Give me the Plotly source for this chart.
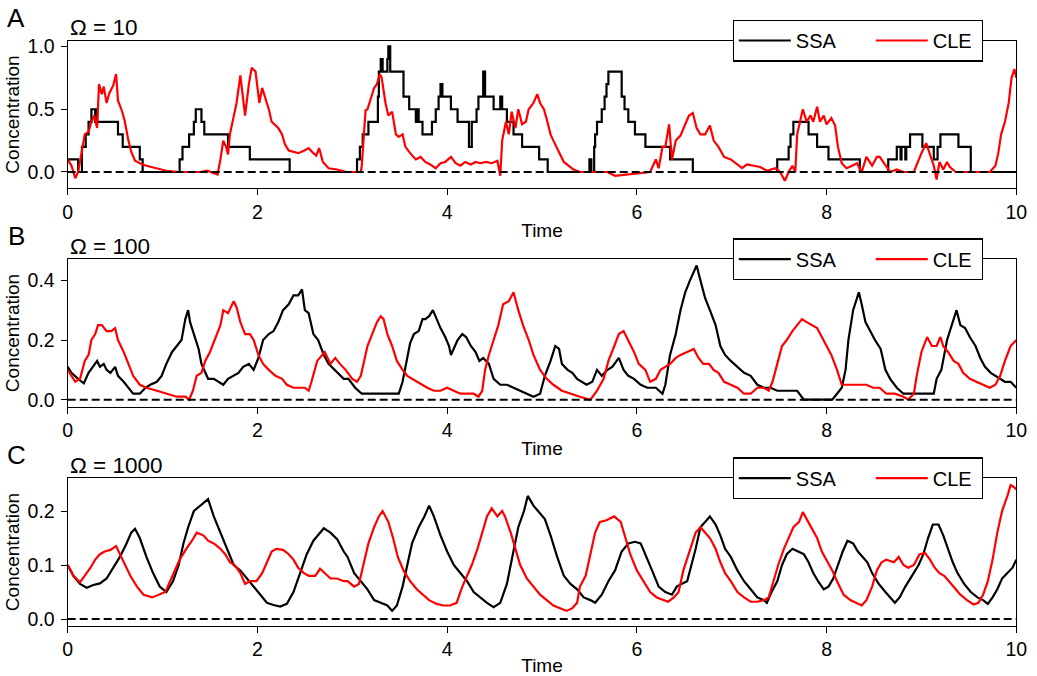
import plotly.graph_objects as go
from plotly.subplots import make_subplots

FONT = "Liberation Sans, Arial, Helvetica, sans-serif"

# ---------------- data ----------------
# Panel A (Omega = 10): SSA is a step trace (change points)
ssa_a_t = [0.00, 0.11, 0.15, 0.19, 0.22, 0.25, 0.29, 0.30, 0.31, 0.53, 0.58, 0.76, 0.79,
           1.18, 1.21, 1.28, 1.33, 1.35, 1.41, 1.44, 1.69, 1.92, 2.34,
           3.05, 3.08, 3.11, 3.17, 3.27, 3.28, 3.30, 3.32, 3.37, 3.38, 3.40,
           3.54, 3.60, 3.67, 3.69, 3.70, 3.74, 3.84, 3.88, 3.91, 3.93, 3.95,
           4.04, 4.11, 4.23, 4.26, 4.31, 4.33, 4.38, 4.40, 4.49, 4.56, 4.58,
           4.63, 4.70, 4.79, 4.97, 5.06,
           5.50, 5.52, 5.55, 5.56, 5.58, 5.63, 5.66, 5.68, 5.70, 5.84, 5.87,
           5.91, 5.98, 6.09, 6.35, 6.59,
           7.48, 7.60, 7.62, 7.65, 7.81, 7.90, 8.02, 8.35,
           8.65, 8.74, 8.78, 8.79, 8.83, 8.84, 8.88, 9.01, 9.13,
           9.17, 9.20, 9.39, 9.52, 10.00]
ssa_a_y = [0.1, 0.0, 0.2, 0.3, 0.4, 0.5, 0.4, 0.5, 0.4, 0.3, 0.2, 0.1, 0.0,
           0.1, 0.2, 0.3, 0.4, 0.5, 0.4, 0.3, 0.2, 0.1, 0.0,
           0.1, 0.2, 0.3, 0.4, 0.6, 0.8, 0.9, 0.8, 0.9, 1.0, 0.8,
           0.6, 0.5, 0.4, 0.5, 0.4, 0.3, 0.4, 0.5, 0.6, 0.7, 0.6,
           0.5, 0.4, 0.2, 0.4, 0.5, 0.6, 0.8, 0.6, 0.5, 0.6, 0.5,
           0.4, 0.3, 0.2, 0.1, 0.0,
           0.1, 0.0, 0.2, 0.3, 0.4, 0.5, 0.6, 0.7, 0.8, 0.6, 0.5,
           0.4, 0.3, 0.2, 0.1, 0.0,
           0.1, 0.2, 0.3, 0.4, 0.3, 0.2, 0.1, 0.0,
           0.1, 0.2, 0.1, 0.2, 0.1, 0.2, 0.3, 0.2, 0.1,
           0.2, 0.3, 0.2, 0.0, 0.0]

cle_a_t = [0.00, 0.04, 0.08, 0.11, 0.15, 0.18, 0.22, 0.25, 0.28, 0.31, 0.33, 0.36, 0.38,
           0.41, 0.44, 0.48, 0.51, 0.53, 0.57, 0.60, 0.64, 0.67, 0.71, 0.76, 0.83,
           0.94, 1.04, 1.18, 1.40, 1.47, 1.54, 1.58, 1.61, 1.64, 1.67, 1.69, 1.71,
           1.75, 1.78, 1.82, 1.85, 1.87, 1.91, 1.94, 1.98, 2.00, 2.02, 2.05, 2.08,
           2.12, 2.15, 2.19, 2.22, 2.26, 2.29, 2.33, 2.38, 2.43, 2.49, 2.54, 2.59,
           2.62, 2.65, 2.69, 2.75, 2.84, 2.94, 3.09, 3.10, 3.14, 3.16, 3.19, 3.23,
           3.26, 3.29, 3.31, 3.35, 3.38, 3.42, 3.46, 3.49, 3.53, 3.56, 3.61, 3.67,
           3.72, 3.77, 3.82, 3.88, 3.93, 3.98, 4.04, 4.09, 4.14, 4.19, 4.25, 4.30,
           4.35, 4.41, 4.47, 4.53, 4.56, 4.58, 4.62, 4.65, 4.68, 4.72, 4.75, 4.79,
           4.83, 4.86, 4.91, 4.95, 4.98, 5.02, 5.05, 5.09, 5.12, 5.18, 5.23, 5.28,
           5.33, 5.40, 5.69, 5.77, 5.90, 6.00, 6.14, 6.20, 6.23, 6.27, 6.30, 6.34,
           6.37, 6.41, 6.46, 6.51, 6.55, 6.59, 6.63, 6.67, 6.72, 6.77, 6.81, 6.86,
           6.92, 6.99, 7.04, 7.11, 7.16, 7.23, 7.30, 7.37, 7.46, 7.51, 7.56, 7.60,
           7.64, 7.67, 7.69, 7.72, 7.75, 7.79, 7.83, 7.86, 7.90, 7.93, 7.97, 8.00,
           8.05, 8.09, 8.12, 8.16, 8.21, 8.27, 8.32, 8.37, 8.42, 8.48, 8.53, 8.56,
           8.62, 8.67, 8.74, 8.81, 8.92, 8.97, 9.00, 9.05, 9.09, 9.13, 9.16, 9.19,
           9.23, 9.27, 9.30, 9.36, 9.72, 9.78, 9.81, 9.84, 9.88, 9.92, 9.95, 9.98,
           10.00]
cle_a_y = [0.10, 0.05, -0.05, 0.00, 0.17, 0.30, 0.32, 0.40, 0.45, 0.35, 0.70, 0.62, 0.68,
           0.55, 0.63, 0.69, 0.78, 0.57, 0.49, 0.41, 0.25, 0.16, 0.09, 0.07, 0.05,
           0.03, 0.01, 0.00, 0.00, 0.01, -0.01, -0.02, 0.10, 0.25, 0.20, 0.14, 0.30,
           0.45, 0.55, 0.77, 0.55, 0.45, 0.70, 0.83, 0.80, 0.65, 0.55, 0.67, 0.60,
           0.50, 0.40, 0.37, 0.35, 0.30, 0.22, 0.17, 0.16, 0.15, 0.17, 0.19, 0.15,
           0.13, 0.19, 0.08, 0.03, 0.02, 0.00, 0.00, 0.05, 0.49, 0.50, 0.57, 0.67,
           0.70, 0.78, 0.75, 0.55, 0.45, 0.48, 0.30, 0.28, 0.30, 0.20, 0.15, 0.10,
           0.12, 0.08, 0.06, 0.03, 0.07, 0.08, 0.12, 0.07, 0.05, 0.08, 0.06, 0.08,
           0.07, 0.08, 0.07, 0.09, -0.03, 0.25, 0.40, 0.30, 0.48, 0.35, 0.50, 0.38,
           0.40, 0.50, 0.55, 0.62, 0.55, 0.50, 0.42, 0.30, 0.25, 0.15, 0.08, 0.05,
           0.02, 0.00, 0.00, -0.03, -0.02, -0.01, 0.00, 0.10, 0.03, 0.20, 0.20, 0.38,
           0.10, 0.25, 0.29, 0.38, 0.45, 0.47, 0.35, 0.30, 0.30, 0.37, 0.25, 0.20,
           0.12, 0.10, 0.07, 0.03, 0.06, 0.05, 0.04, 0.01, 0.03, 0.00, -0.07, 0.00,
           0.05, 0.00, 0.30, 0.40, 0.50, 0.40, 0.45, 0.40, 0.52, 0.40, 0.45, 0.38,
           0.43, 0.37, 0.20, 0.07, 0.03, 0.05, 0.07, 0.00, 0.12, 0.05, 0.12, 0.12,
           0.05, 0.00, 0.02, 0.00, 0.00, 0.10, 0.15, 0.23, 0.13, 0.05, -0.06, 0.08,
           0.02, 0.08, 0.04, 0.00, 0.00, 0.05, 0.15, 0.30, 0.40, 0.55, 0.75, 0.82,
           0.75]

# Panel B (Omega = 100)
ssa_b_t = [0.00, 0.04, 0.11, 0.17, 0.22, 0.27, 0.31, 0.34, 0.38, 0.41, 0.45, 0.50, 0.53,
           0.59, 0.64, 0.69, 0.76, 0.82, 0.87, 0.94, 0.99, 1.04, 1.10, 1.15, 1.20,
           1.24, 1.27, 1.29, 1.34, 1.38, 1.41, 1.45, 1.48, 1.54, 1.59, 1.64, 1.69,
           1.75, 1.80, 1.85, 1.91, 1.96, 2.01, 2.06, 2.12, 2.17, 2.22, 2.27, 2.33,
           2.38, 2.43, 2.47, 2.50, 2.54, 2.59, 2.64, 2.70, 2.75, 2.78, 2.84, 2.91,
           2.96, 3.03, 3.10, 3.19, 3.30, 3.40, 3.49, 3.53, 3.58, 3.61, 3.65, 3.70,
           3.74, 3.77, 3.81, 3.85, 3.89, 3.93, 3.98, 4.02, 4.04, 4.07, 4.11, 4.16,
           4.20, 4.25, 4.30, 4.34, 4.38, 4.44, 4.49, 4.56, 4.63, 4.70, 4.77, 4.84,
           4.91, 4.98, 5.03, 5.09, 5.14, 5.18, 5.21, 5.27, 5.32, 5.37, 5.42, 5.47,
           5.53, 5.58, 5.63, 5.69, 5.74, 5.81, 5.86, 5.91, 5.97, 6.04, 6.11, 6.20,
           6.27, 6.30, 6.35, 6.41, 6.46, 6.51, 6.56, 6.63, 6.67, 6.72, 6.77, 6.83,
           6.88, 6.93, 6.99, 7.06, 7.13, 7.20, 7.27, 7.34, 7.41, 7.48, 7.58, 7.69,
           7.76, 7.86, 7.97, 8.06, 8.11, 8.16, 8.20, 8.23, 8.28, 8.34, 8.37, 8.41,
           8.46, 8.51, 8.57, 8.62, 8.67, 8.74, 8.81, 8.92, 9.03, 9.13, 9.16, 9.21,
           9.27, 9.32, 9.37, 9.41, 9.46, 9.51, 9.57, 9.62, 9.67, 9.73, 9.78, 9.83,
           9.88, 9.94, 10.00]
ssa_b_y = [0.11, 0.09, 0.07, 0.055, 0.09, 0.11, 0.13, 0.11, 0.12, 0.10, 0.09, 0.11, 0.08,
           0.06, 0.04, 0.02, 0.02, 0.04, 0.05, 0.06, 0.08, 0.12, 0.16, 0.18, 0.20,
           0.27, 0.30, 0.26, 0.21, 0.17, 0.12, 0.09, 0.07, 0.07, 0.06, 0.05, 0.07,
           0.08, 0.09, 0.11, 0.12, 0.10, 0.14, 0.20, 0.22, 0.23, 0.26, 0.30, 0.32,
           0.35, 0.35, 0.37, 0.30, 0.29, 0.22, 0.20, 0.15, 0.12, 0.11, 0.09, 0.07,
           0.07, 0.04, 0.02, 0.02, 0.02, 0.02, 0.02, 0.06, 0.14, 0.19, 0.22, 0.23,
           0.27, 0.27, 0.28, 0.30, 0.27, 0.24, 0.21, 0.18, 0.15, 0.17, 0.20, 0.22,
           0.21, 0.18, 0.16, 0.13, 0.14, 0.12, 0.07, 0.05, 0.05, 0.04, 0.03, 0.02,
           0.01, 0.02, 0.08, 0.13, 0.18, 0.17, 0.12, 0.10, 0.09, 0.07, 0.06, 0.05,
           0.06, 0.10, 0.08, 0.10, 0.11, 0.14, 0.10, 0.08, 0.07, 0.05, 0.04, 0.04,
           0.02, 0.05, 0.15, 0.22, 0.30, 0.36, 0.40, 0.45, 0.40, 0.34, 0.30, 0.25,
           0.18, 0.15, 0.13, 0.11, 0.09, 0.08, 0.05, 0.04, 0.04, 0.03, 0.03, 0.03,
           0.00, 0.00, 0.00, 0.00, 0.02, 0.04, 0.10, 0.20, 0.30, 0.36, 0.32, 0.26,
           0.23, 0.20, 0.17, 0.10, 0.07, 0.04, 0.02, 0.02, 0.02, 0.02, 0.07, 0.10,
           0.20, 0.25, 0.30, 0.25, 0.24, 0.21, 0.18, 0.14, 0.11, 0.09, 0.08, 0.07,
           0.06, 0.06, 0.04]

cle_b_t = [0.00, 0.04, 0.08, 0.13, 0.18, 0.22, 0.25, 0.29, 0.32, 0.36, 0.41, 0.46, 0.50,
           0.53, 0.59, 0.64, 0.69, 0.76, 0.83, 0.94, 1.04, 1.15, 1.24, 1.28, 1.32,
           1.36, 1.41, 1.45, 1.50, 1.55, 1.61, 1.64, 1.69, 1.75, 1.78, 1.82, 1.87,
           1.92, 1.96, 2.01, 2.06, 2.12, 2.19, 2.26, 2.31, 2.38, 2.45, 2.50, 2.54,
           2.57, 2.63, 2.68, 2.71, 2.77, 2.82, 2.87, 2.93, 3.00, 3.05, 3.09, 3.12,
           3.16, 3.21, 3.26, 3.30, 3.33, 3.37, 3.42, 3.47, 3.53, 3.58, 3.63, 3.68,
           3.74, 3.79, 3.86, 3.93, 4.00, 4.07, 4.14, 4.21, 4.28, 4.33, 4.37, 4.40,
           4.44, 4.49, 4.54, 4.59, 4.65, 4.70, 4.75, 4.80, 4.86, 4.91, 4.98, 5.05,
           5.12, 5.21, 5.30, 5.40, 5.51, 5.58, 5.65, 5.70, 5.75, 5.81, 5.86, 5.91,
           5.97, 6.02, 6.09, 6.14, 6.20, 6.25, 6.30, 6.35, 6.41, 6.46, 6.53, 6.60,
           6.65, 6.70, 6.76, 6.81, 6.86, 6.92, 6.99, 7.06, 7.13, 7.20, 7.27, 7.34,
           7.39, 7.43, 7.48, 7.53, 7.58, 7.64, 7.69, 7.74, 7.79, 7.84, 7.90, 7.95,
           8.00, 8.05, 8.11, 8.16, 8.21, 8.28, 8.35, 8.42, 8.49, 8.56, 8.63, 8.72,
           8.81, 8.86, 8.92, 8.95, 9.00, 9.06, 9.11, 9.16, 9.20, 9.23, 9.28, 9.34,
           9.39, 9.44, 9.51, 9.58, 9.65, 9.72, 9.78, 9.83, 9.88, 9.94, 10.00]
cle_b_y = [0.10, 0.08, 0.06, 0.07, 0.13, 0.15, 0.20, 0.22, 0.25, 0.25, 0.23, 0.23, 0.24,
           0.20, 0.16, 0.12, 0.08, 0.05, 0.04, 0.03, 0.02, 0.01, 0.01, 0.00, 0.03,
           0.08, 0.09, 0.13, 0.16, 0.20, 0.25, 0.30, 0.29, 0.33, 0.31, 0.26, 0.22,
           0.22, 0.20, 0.15, 0.12, 0.10, 0.08, 0.07, 0.05, 0.04, 0.04, 0.04, 0.03,
           0.06, 0.13, 0.15, 0.16, 0.12, 0.14, 0.12, 0.10, 0.07, 0.06, 0.08, 0.12,
           0.18, 0.22, 0.26, 0.28, 0.27, 0.22, 0.18, 0.13, 0.10, 0.08, 0.07, 0.06,
           0.05, 0.04, 0.03, 0.03, 0.04, 0.03, 0.02, 0.02, 0.02, 0.01, 0.03, 0.10,
           0.15, 0.20, 0.25, 0.32, 0.33, 0.36, 0.30, 0.25, 0.20, 0.15, 0.10, 0.07,
           0.05, 0.03, 0.02, 0.01, 0.00, 0.03, 0.07, 0.13, 0.17, 0.22, 0.23, 0.20,
           0.16, 0.12, 0.10, 0.06, 0.07, 0.10, 0.11, 0.12, 0.14, 0.15, 0.16, 0.17,
           0.14, 0.12, 0.12, 0.10, 0.09, 0.06, 0.05, 0.04, 0.02, 0.02, 0.04, 0.04,
           0.03, 0.06, 0.12, 0.18, 0.20, 0.23, 0.25, 0.27, 0.26, 0.25, 0.24, 0.21,
           0.18, 0.15, 0.10, 0.05, 0.05, 0.05, 0.05, 0.05, 0.04, 0.04, 0.02, 0.02,
           0.01, 0.00, 0.02, 0.08, 0.16, 0.21, 0.18, 0.18, 0.21, 0.18, 0.16, 0.13,
           0.12, 0.09, 0.07, 0.06, 0.05, 0.04, 0.05, 0.08, 0.13, 0.18, 0.20]

# Panel C (Omega = 1000)
ssa_c_t = [0.00, 0.06, 0.13, 0.20, 0.27, 0.34, 0.41, 0.48, 0.55, 0.62, 0.67, 0.71, 0.76,
           0.83, 0.90, 0.97, 1.04, 1.11, 1.17, 1.22, 1.27, 1.33, 1.40, 1.48, 1.54,
           1.61, 1.68, 1.75, 1.82, 1.89, 1.96, 2.03, 2.10, 2.17, 2.24, 2.31, 2.38,
           2.45, 2.52, 2.59, 2.64, 2.70, 2.77, 2.84, 2.91, 2.95, 3.02, 3.09, 3.16,
           3.23, 3.30, 3.37, 3.42, 3.47, 3.53, 3.58, 3.63, 3.70, 3.76, 3.81, 3.86,
           3.93, 4.00, 4.07, 4.14, 4.21, 4.28, 4.35, 4.42, 4.49, 4.56, 4.63, 4.70,
           4.75, 4.81, 4.85, 4.91, 4.98, 5.03, 5.09, 5.16, 5.23, 5.30, 5.37, 5.44,
           5.51, 5.56, 5.63, 5.70, 5.77, 5.84, 5.91, 5.98, 6.04, 6.09, 6.16, 6.23,
           6.30, 6.37, 6.42, 6.47, 6.53, 6.56, 6.62, 6.67, 6.72, 6.77, 6.83, 6.88,
           6.93, 6.99, 7.06, 7.13, 7.20, 7.27, 7.34, 7.37, 7.42, 7.48, 7.53, 7.58,
           7.64, 7.71, 7.76, 7.81, 7.86, 7.91, 7.97, 8.02, 8.07, 8.12, 8.17, 8.22,
           8.28, 8.33, 8.38, 8.43, 8.48, 8.55, 8.62, 8.67, 8.72, 8.77, 8.83, 8.90,
           8.97, 9.02, 9.07, 9.12, 9.18, 9.23, 9.28, 9.33, 9.38, 9.45, 9.52, 9.59,
           9.65, 9.70, 9.75, 9.80, 9.85, 9.91, 9.96, 10.00]
ssa_c_y = [0.100, 0.080, 0.065, 0.058, 0.063, 0.066, 0.075, 0.095, 0.115, 0.140, 0.160, 0.167, 0.150,
           0.115, 0.085, 0.060, 0.050, 0.070, 0.100, 0.140, 0.170, 0.200, 0.210, 0.222, 0.190,
           0.160, 0.130, 0.100, 0.090, 0.075, 0.060, 0.045, 0.030, 0.026, 0.023, 0.028, 0.050,
           0.085, 0.120, 0.145, 0.155, 0.168, 0.160, 0.148, 0.125, 0.115, 0.085, 0.070, 0.055,
           0.035, 0.030, 0.025, 0.015, 0.025, 0.060, 0.100, 0.140, 0.170, 0.190, 0.210, 0.190,
           0.155, 0.125, 0.100, 0.085, 0.070, 0.050, 0.040, 0.030, 0.022, 0.030, 0.065, 0.130,
           0.170, 0.200, 0.228, 0.210, 0.195, 0.185, 0.155, 0.115, 0.080, 0.065, 0.055, 0.040,
           0.035, 0.030, 0.045, 0.070, 0.090, 0.125, 0.140, 0.143, 0.140, 0.120, 0.090, 0.060,
           0.050, 0.045, 0.060, 0.065, 0.070, 0.090, 0.130, 0.170, 0.180, 0.190, 0.175, 0.155,
           0.130, 0.115, 0.090, 0.070, 0.055, 0.040, 0.035, 0.030, 0.050, 0.070, 0.100, 0.120,
           0.130, 0.125, 0.120, 0.105, 0.085, 0.070, 0.055, 0.060, 0.075, 0.100, 0.125, 0.145,
           0.140, 0.125, 0.115, 0.105, 0.085, 0.065, 0.050, 0.040, 0.030, 0.040, 0.060, 0.080,
           0.100, 0.120, 0.150, 0.175, 0.175, 0.155, 0.130, 0.105, 0.085, 0.065, 0.050, 0.040,
           0.035, 0.028, 0.040, 0.055, 0.075, 0.085, 0.095, 0.110]

cle_c_t = [0.00, 0.06, 0.13, 0.18, 0.24, 0.29, 0.34, 0.39, 0.45, 0.51, 0.55, 0.60, 0.66,
           0.73, 0.80, 0.89, 0.96, 1.03, 1.08, 1.13, 1.18, 1.25, 1.31, 1.36, 1.43,
           1.48, 1.54, 1.61, 1.66, 1.71, 1.76, 1.82, 1.87, 1.92, 1.99, 2.05, 2.10,
           2.15, 2.20, 2.27, 2.33, 2.38, 2.43, 2.49, 2.54, 2.61, 2.66, 2.71, 2.77,
           2.84, 2.91, 2.95, 3.02, 3.07, 3.12, 3.17, 3.23, 3.28, 3.32, 3.38, 3.43,
           3.48, 3.54, 3.61, 3.68, 3.74, 3.81, 3.89, 3.96, 4.03, 4.10, 4.16, 4.21,
           4.26, 4.32, 4.37, 4.42, 4.47, 4.53, 4.58, 4.61, 4.67, 4.72, 4.77, 4.84,
           4.91, 4.98, 5.05, 5.12, 5.19, 5.26, 5.32, 5.37, 5.40, 5.46, 5.51, 5.56,
           5.61, 5.68, 5.76, 5.83, 5.88, 5.93, 6.00, 6.07, 6.14, 6.21, 6.28, 6.33,
           6.39, 6.44, 6.49, 6.56, 6.62, 6.67, 6.72, 6.77, 6.83, 6.88, 6.93, 6.99,
           7.06, 7.13, 7.20, 7.27, 7.34, 7.39, 7.44, 7.49, 7.55, 7.60, 7.65, 7.71,
           7.75, 7.79, 7.84, 7.90, 7.95, 8.00, 8.06, 8.11, 8.18, 8.25, 8.32, 8.37,
           8.42, 8.48, 8.53, 8.58, 8.63, 8.71, 8.76, 8.81, 8.86, 8.92, 8.98, 9.04,
           9.09, 9.14, 9.19, 9.24, 9.29, 9.34, 9.41, 9.48, 9.55, 9.60, 9.65, 9.70,
           9.75, 9.80, 9.85, 9.91, 9.94, 9.97, 10.00]
cle_c_y = [0.100, 0.080, 0.068, 0.080, 0.095, 0.110, 0.120, 0.125, 0.128, 0.135, 0.120, 0.100, 0.080,
           0.060, 0.045, 0.040, 0.045, 0.050, 0.070, 0.090, 0.110, 0.130, 0.145, 0.160, 0.155,
           0.145, 0.140, 0.130, 0.120, 0.105, 0.100, 0.085, 0.065, 0.070, 0.070, 0.085, 0.105,
           0.125, 0.130, 0.128, 0.120, 0.110, 0.095, 0.085, 0.080, 0.080, 0.093, 0.085, 0.075,
           0.075, 0.070, 0.070, 0.060, 0.065, 0.100, 0.140, 0.170, 0.190, 0.200, 0.180, 0.150,
           0.115, 0.090, 0.070, 0.055, 0.045, 0.035, 0.028, 0.025, 0.025, 0.030, 0.060, 0.080,
           0.100, 0.130, 0.160, 0.190, 0.205, 0.190, 0.200, 0.190, 0.160, 0.130, 0.100, 0.075,
           0.060, 0.045, 0.035, 0.025, 0.020, 0.015, 0.020, 0.030, 0.060, 0.080, 0.120, 0.160,
           0.180, 0.183, 0.190, 0.180, 0.150, 0.120, 0.090, 0.070, 0.050, 0.040, 0.035, 0.032,
           0.040, 0.050, 0.090, 0.130, 0.160, 0.170, 0.160, 0.150, 0.130, 0.105, 0.085, 0.070,
           0.050, 0.040, 0.032, 0.032, 0.035, 0.040, 0.070, 0.100, 0.130, 0.150, 0.170, 0.180,
           0.198, 0.185, 0.170, 0.150, 0.125, 0.110, 0.090, 0.070, 0.045, 0.035, 0.030, 0.025,
           0.035, 0.060, 0.090, 0.105, 0.110, 0.105, 0.115, 0.100, 0.095, 0.100, 0.120, 0.122,
           0.110, 0.095, 0.085, 0.080, 0.070, 0.060, 0.045, 0.035, 0.027, 0.030, 0.045, 0.070,
           0.110, 0.160, 0.200, 0.230, 0.248, 0.245, 0.240]

series_t = [(ssa_a_t, cle_a_t), (ssa_b_t, cle_b_t), (ssa_c_t, cle_c_t)]
series_y = [(ssa_a_y, cle_a_y), (ssa_b_y, cle_b_y), (ssa_c_y, cle_c_y)]
series_names = ["SSA", "CLE"]
series_colors = ["#000000", "#ff0000"]
panel_letters = ["A", "B", "C"]
omega_labels = ["Ω = 10", "Ω = 100", "Ω = 1000"]
x_ticks = [0, 2, 4, 6, 8, 10]
y_ticks = [[0.0, 0.5, 1.0], [0.0, 0.2, 0.4], [0.0, 0.1, 0.2]]
y_tick_text = [["0.0", "0.5", "1.0"], ["0.0", "0.2", "0.4"], ["0.0", "0.1", "0.2"]]
y_ranges = [(-0.130, 1.046), (-0.0235, 0.4706), (-0.0124, 0.2606)]

# ---------------- layout geometry (px) ----------------
W, H = 1037, 676
x_dom = [67.7 / W, 1016.3 / W]
panel_px = [(40.7, 188.3), (259.3, 406.7), (478.3, 625.7)]  # top, bottom
y_doms = [[1 - b / H, 1 - t / H] for t, b in panel_px]
legend_entry_w = [70, 44]   # per-entry text widths (SSA, CLE)

fig = make_subplots(rows=3, cols=1)
legend_ids = ["legend", "legend2", "legend3"]

for i in range(3):
    for k in range(2):
        fig.add_trace(go.Scatter(
            x=series_t[i][k], y=series_y[i][k], mode="lines", name=series_names[k],
            line=dict(color=series_colors[k], width=2.2,
                      shape="hv" if (i == 0 and k == 0) else "linear"),
            legend=legend_ids[i], showlegend=True, legendwidth=legend_entry_w[k],
        ), row=i + 1, col=1)
    fig.add_hline(y=0, line=dict(color="black", width=2, dash="8px,4px"),
                  row=i + 1, col=1, layer="above")

axis_common = dict(showline=True, linecolor="black", linewidth=1.3, mirror=True,
                   showgrid=False, zeroline=False, ticks="outside", ticklen=6,
                   tickwidth=1.3, tickcolor="black", automargin=False,
                   tickfont=dict(family=FONT, size=19.5, color="black"))

for i in range(3):
    fig.update_xaxes(row=i + 1, col=1, domain=x_dom, range=[0, 10], tickvals=x_ticks,
                     title=dict(text="Time", font=dict(family=FONT, size=19, color="black"),
                                standoff=1),
                     **axis_common)
    fig.update_yaxes(row=i + 1, col=1, domain=y_doms[i], range=list(y_ranges[i]),
                     tickvals=y_ticks[i], ticktext=y_tick_text[i], ticklabelstandoff=2,
                     title=dict(text="Concentration",
                                font=dict(family=FONT, size=19, color="black"),
                                standoff=2),
                     **axis_common)
    t_px, b_px = panel_px[i]
    # panel letter
    fig.add_annotation(text=panel_letters[i], xref="paper", yref="paper",
                       x=16 / W, y=1 - (t_px - 23) / H, xanchor="center", yanchor="middle",
                       showarrow=False, font=dict(family=FONT, size=26, color="black"))
    # omega title
    fig.add_annotation(text=omega_labels[i], xref="paper", yref="paper",
                       x=x_dom[0], y=1 - (t_px - 13) / H, xanchor="left", yanchor="middle",
                       showarrow=False, font=dict(family=FONT, size=22.5, color="black"))

legend_style = dict(orientation="h", xanchor="left", yanchor="middle",
                    bgcolor="white", bordercolor="black", borderwidth=1.3,
                    itemwidth=52,
                    font=dict(family=FONT, size=20, color="black"))
fig.update_layout(
    width=W, height=H, margin=dict(l=0, r=0, t=0, b=0),
    paper_bgcolor="white", plot_bgcolor="white",
    font=dict(family=FONT, color="black"),
    legend=dict(x=732.5 / W, y=y_doms[0][1], **legend_style),
    legend2=dict(x=732.5 / W, y=y_doms[1][1], **legend_style),
    legend3=dict(x=732.5 / W, y=y_doms[2][1], **legend_style),
)

fig.write_html("out.html")
